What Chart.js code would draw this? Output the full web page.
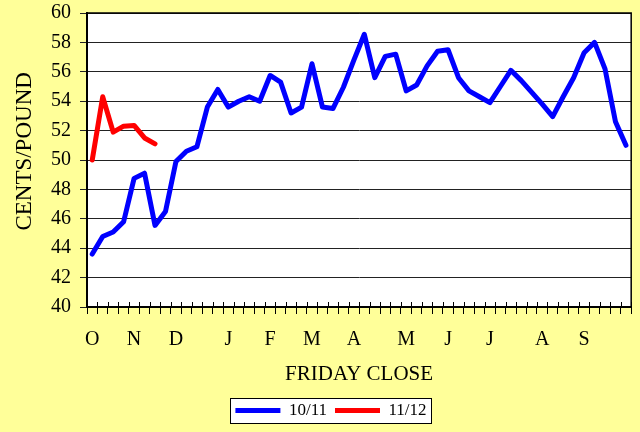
<!DOCTYPE html>
<html>
<head>
<meta charset="utf-8">
<script src="https://cdn.jsdelivr.net/npm/chart.js@4/dist/chart.umd.min.js"></script>
<style>
  html, body { margin: 0; padding: 0; background: #FFFF99; }
  canvas { display: block; }
</style>
</head>
<body>
<canvas id="priceChart" width="640" height="432"></canvas>
<script>
// weekly Friday close, one label per month start
var weekLabels = ['O','','','', 'N','','','', 'D','','','','', 'J','','','', 'F','','','',
  'M','','','', 'A','','','','', 'M','','','', 'J','','','', 'J','','','','',
  'A','','','', 'S','','','',''];
var season1011 = [43.6, 44.8, 45.1, 45.8, 48.75, 49.1, 45.55, 46.5, 49.9, 50.6,
  50.9, 53.6, 54.8, 53.6, 54.0, 54.3, 54.0, 55.75, 55.3, 53.2,
  53.6, 56.55, 53.6, 53.5, 54.95, 56.8, 58.55, 55.6, 57.05, 57.2,
  54.7, 55.1, 56.4, 57.4, 57.5, 55.6, 54.7, 54.3, 53.9, 55.0,
  56.1, 55.4, 54.6, 53.8, 52.95, 54.3, 55.6, 57.3, 58.0, 56.2,
  52.6, 51.0];
var season1112 = [50.0, 54.3, 51.9, 52.3, 52.35, 51.5, 51.1];
var yMin = 40, yMax = 60, yStep = 2;

var serif = "'Liberation Serif', 'Times New Roman', serif";

// yellow page, white plot, boxed legend, inner half of the x tick marks
var framePlugin = {
  id: 'frame',
  beforeDraw: function(chart) {
    var c = chart.ctx, a = chart.chartArea;
    c.save();
    c.fillStyle = '#FFFF99';
    c.fillRect(0, 0, chart.width, chart.height);
    c.fillStyle = '#FFFFFF';
    c.fillRect(a.left, a.top, a.right - a.left, a.bottom - a.top);
    var hb = chart.legend.legendHitBoxes;
    if (hb && hb.length) {
      var l = Infinity, r = -Infinity, t = Infinity, b = -Infinity;
      hb.forEach(function(h) {
        l = Math.min(l, h.left); r = Math.max(r, h.left + h.width);
        t = Math.min(t, h.top); b = Math.max(b, h.top + h.height);
      });
      c.fillRect(l - 5, t - 4, r - l + 10, b - t + 8);
      c.strokeStyle = '#000';
      c.lineWidth = 1;
      c.strokeRect(Math.round(l - 5) + 0.5, Math.round(t - 4) + 0.5, Math.round(r - l + 10), Math.round(b - t + 8));
    }
    c.restore();
  },
  afterDraw: function(chart) {
    var c = chart.ctx, a = chart.chartArea, sx = chart.scales.x;
    var n = weekLabels.length;
    c.save();
    c.strokeStyle = '#000';
    c.lineWidth = 1;
    c.beginPath();
    for (var i = 1; i <= n; i++) {
      var x = Math.round(sx.left + i * (sx.right - sx.left) / n) + 0.5;
      c.moveTo(x, a.bottom - 5);
      c.lineTo(x, a.bottom);
    }
    c.stroke();
    c.lineWidth = 1.5;
    c.strokeRect(a.left, a.top, a.right - a.left, a.bottom - a.top);
    c.restore();
  }
};

new Chart(document.getElementById('priceChart'), {
  type: 'line',
  data: {
    labels: weekLabels,
    datasets: [{
      label: '10/11',
      data: season1011,
      borderColor: '#0000FF',
      backgroundColor: '#0000FF',
      borderWidth: 5,
      borderCapStyle: 'round',
      borderJoinStyle: 'round',
      pointRadius: 0,
      tension: 0
    }, {
      label: '11/12',
      data: season1112,
      borderColor: '#FF0000',
      backgroundColor: '#FF0000',
      borderWidth: 5,
      borderCapStyle: 'round',
      borderJoinStyle: 'round',
      pointRadius: 0,
      tension: 0
    }]
  },
  options: {
    responsive: false,
    animation: false,
    layout: { padding: { top: 13, right: 5, left: 27, bottom: 3 } },
    plugins: {
      tooltip: { enabled: false },
      legend: {
        position: 'bottom',
        labels: {
          usePointStyle: true,
          pointStyle: 'line',
          pointStyleWidth: 45,
          boxHeight: 17,
          padding: 8,
          color: '#000',
          font: { family: serif, size: 17 }
        }
      }
    },
    scales: {
      x: {
        offset: true,
        grid: { display: true, drawOnChartArea: false, drawTicks: true, tickLength: 7, color: '#000', offset: true },
        border: { display: true, color: '#000', width: 2 },
        ticks: { autoSkip: false, maxRotation: 0, padding: 14, color: '#000', font: { family: serif, size: 20 } },
        title: { display: true, text: 'FRIDAY CLOSE', color: '#000', padding: { top: 0, bottom: 7 }, font: { family: serif, size: 21 } },
        afterFit: function(s) { s.height = 87; }
      },
      y: {
        min: yMin,
        max: yMax,
        grid: { color: '#222', lineWidth: 1, tickLength: 7 },
        border: { display: true, color: '#000', width: 2 },
        ticks: { stepSize: yStep, padding: 9, color: '#000', font: { family: serif, size: 20 } },
        title: { display: true, text: '   CENTS/POUND', color: '#000', padding: { top: -16, bottom: 0 }, font: { family: serif, size: 23 } },
        afterFit: function(s) { s.width = 60; s.paddingTop = 0; s.paddingBottom = 0; }
      }
    }
  },
  plugins: [framePlugin]
});
</script>
</body>
</html>
